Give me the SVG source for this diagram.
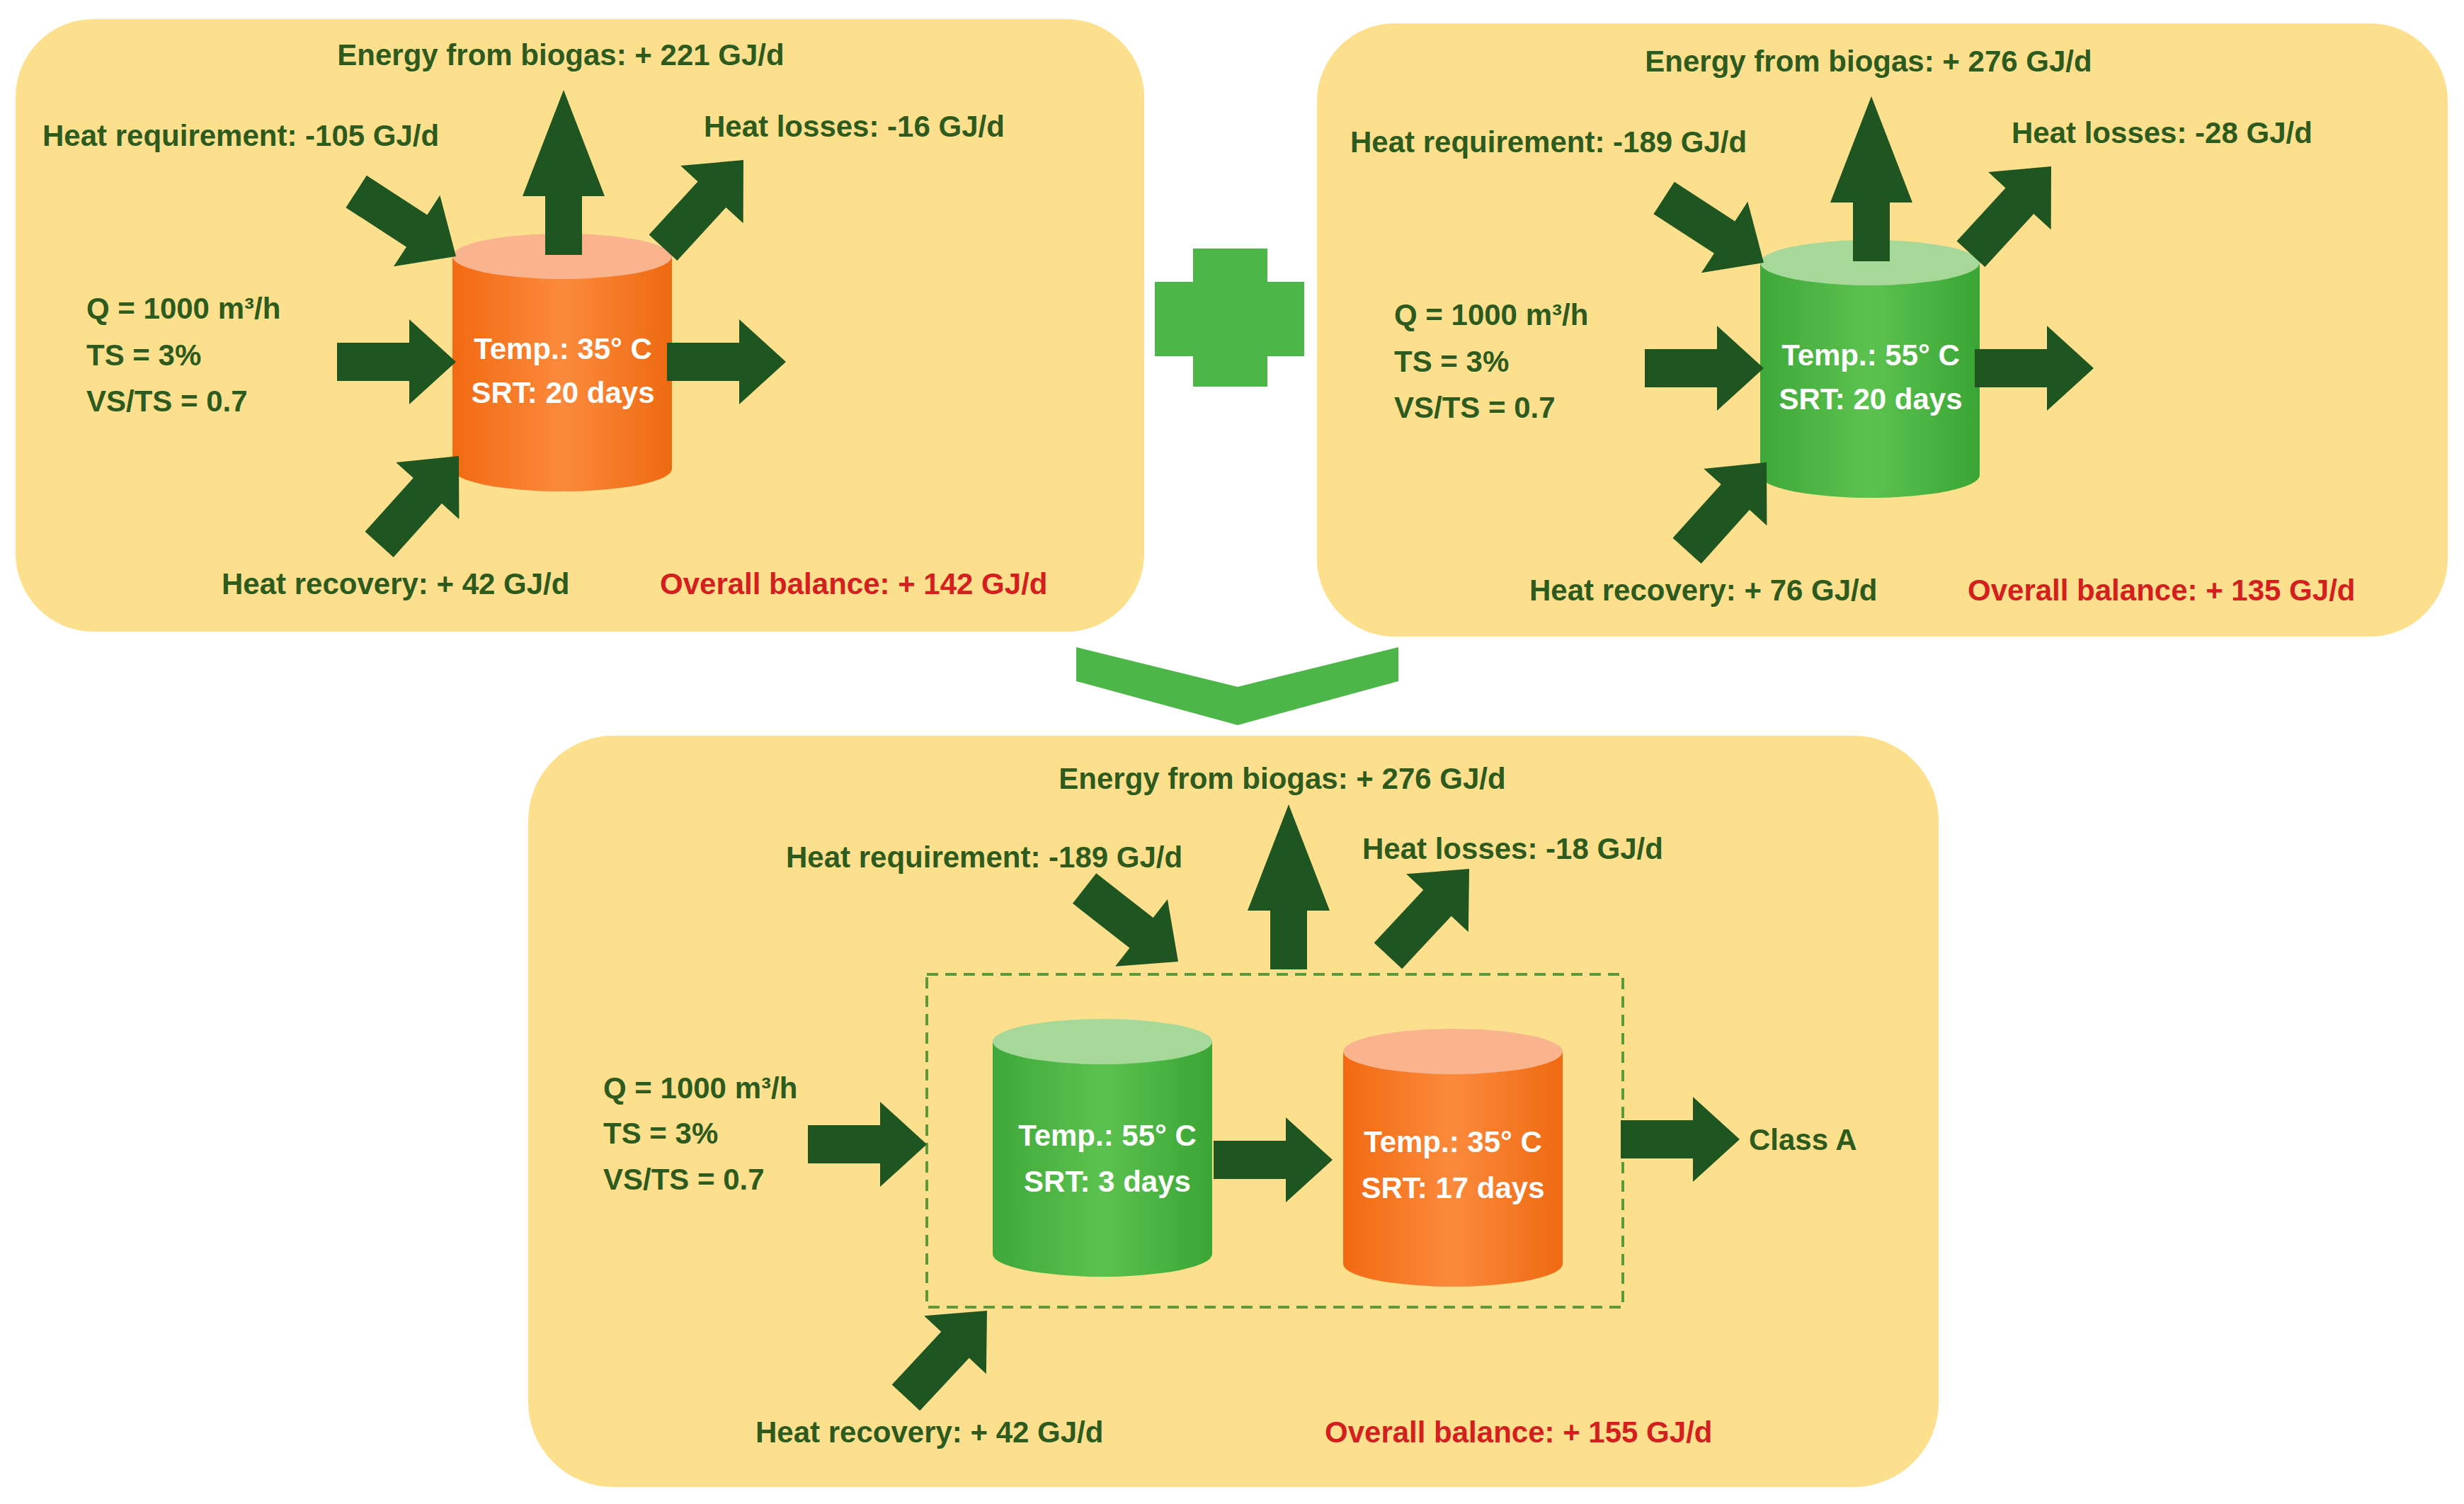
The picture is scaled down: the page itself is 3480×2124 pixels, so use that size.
<svg xmlns="http://www.w3.org/2000/svg" width="3480" height="2124" viewBox="0 0 3480 2124">
<style>
.panel{fill:#fce08e}
.t{font-family:"Liberation Sans",Arial,sans-serif;font-weight:bold;font-size:42px;fill:#2d5a1d}
.r{fill:#d3201e}
.w{fill:#ffffff;text-anchor:middle}
.arr{fill:#1f5521}
</style>
<defs>
<path id="a" class="arr" d="M-168,-27 L-66,-27 L-66,-60 L0,0 L-66,60 L-66,27 L-168,27 Z"/>
<path id="up" class="arr" d="M-233,-26 L-150,-26 L-150,-58 L0,0 L-150,58 L-150,26 L-233,26 Z"/>
<linearGradient id="og" x1="0" x2="1" y1="0" y2="0"><stop offset="0" stop-color="#f26a12"/><stop offset="0.5" stop-color="#fb8a3c"/><stop offset="1" stop-color="#ee6a12"/></linearGradient>
<linearGradient id="gg" x1="0" x2="1" y1="0" y2="0"><stop offset="0" stop-color="#3fa83a"/><stop offset="0.5" stop-color="#5cc24f"/><stop offset="1" stop-color="#3aa535"/></linearGradient>
<g id="ocyl"><path d="M0,0 L0,300 A155,32 0 0 0 310,300 L310,0 Z" fill="url(#og)"/><ellipse cx="155" cy="0" rx="155" ry="32" fill="#f9b48e"/></g>
<g id="gcyl"><path d="M0,0 L0,300 A155,32 0 0 0 310,300 L310,0 Z" fill="url(#gg)"/><ellipse cx="155" cy="0" rx="155" ry="32" fill="#a6d89a"/></g>
</defs>
<rect width="3480" height="2124" fill="#ffffff"/>
<g id="panel1">
<rect class="panel" x="22" y="27" width="1594" height="865" rx="110"/>
<use href="#ocyl" x="639" y="362"/>
<text class="t w" x="795" y="507">Temp.: 35° C</text>
<text class="t w" x="795" y="569">SRT: 20 days</text>
<text class="t" x="792" y="92" text-anchor="middle">Energy from biogas: + 221 GJ/d</text>
<text class="t" x="60" y="206">Heat requirement: -105 GJ/d</text>
<text class="t" x="994" y="193">Heat losses: -16 GJ/d</text>
<text class="t" x="122" y="450">Q = 1000 m³/h</text>
<text class="t" x="122" y="516">TS = 3%</text>
<text class="t" x="122" y="581">VS/TS = 0.7</text>
<text class="t" x="313" y="839">Heat recovery: + 42 GJ/d</text>
<text class="t r" x="932" y="839">Overall balance: + 142 GJ/d</text>
</g>
<g id="panel2">
<rect class="panel" x="1860" y="33" width="1597" height="866" rx="110"/>
<use href="#gcyl" x="2486" y="371"/>
<text class="t w" x="2642" y="516">Temp.: 55° C</text>
<text class="t w" x="2642" y="578">SRT: 20 days</text>
<text class="t" x="2639" y="101" text-anchor="middle">Energy from biogas: + 276 GJ/d</text>
<text class="t" x="1907" y="215">Heat requirement: -189 GJ/d</text>
<text class="t" x="2841" y="202">Heat losses: -28 GJ/d</text>
<text class="t" x="1969" y="459">Q = 1000 m³/h</text>
<text class="t" x="1969" y="525">TS = 3%</text>
<text class="t" x="1969" y="590">VS/TS = 0.7</text>
<text class="t" x="2160" y="848">Heat recovery: + 76 GJ/d</text>
<text class="t r" x="2779" y="848">Overall balance: + 135 GJ/d</text>
</g>
<g id="plus"><path d="M1685,351 H1790 V398 H1842 V503 H1790 V546 H1685 V503 H1631 V398 H1685 Z" fill="#4cb748"/></g>
<g id="chevron"><path d="M1520,914 L1748,970 L1975,914 L1975,962 L1748,1024 L1520,962 Z" fill="#4cb748"/></g>
<g id="panel3">
<rect class="panel" x="746" y="1039" width="1992" height="1061" rx="120"/>
<rect x="1309" y="1376" width="983" height="470" fill="none" stroke="#5a9a3a" stroke-width="4" stroke-dasharray="16,10"/>
<use href="#gcyl" x="1402" y="1471"/>
<use href="#ocyl" x="1897" y="1485"/>
<text class="t w" x="1564" y="1618">Temp.: 55° C</text>
<text class="t w" x="1564" y="1683">SRT: 3 days</text>
<text class="t w" x="2052" y="1627">Temp.: 35° C</text>
<text class="t w" x="2052" y="1692">SRT: 17 days</text>
<text class="t" x="1811" y="1114" text-anchor="middle">Energy from biogas: + 276 GJ/d</text>
<text class="t" x="1110" y="1225">Heat requirement: -189 GJ/d</text>
<text class="t" x="1924" y="1213">Heat losses: -18 GJ/d</text>
<text class="t" x="852" y="1551">Q = 1000 m³/h</text>
<text class="t" x="852" y="1615">TS = 3%</text>
<text class="t" x="852" y="1680">VS/TS = 0.7</text>
<text class="t" x="2470" y="1624">Class A</text>
<text class="t" x="1067" y="2037">Heat recovery: + 42 GJ/d</text>
<text class="t r" x="1871" y="2037">Overall balance: + 155 GJ/d</text>
</g>
<g id="connectors">
<use href="#up" transform="translate(796,127) rotate(-90)"/>
<use href="#a" transform="translate(644,362) rotate(33)"/>
<use href="#a" transform="translate(1050,226) rotate(-47.5)"/>
<use href="#a" transform="translate(644,511) rotate(0)"/>
<use href="#a" transform="translate(1110,511) rotate(0)"/>
<use href="#a" transform="translate(648,644) rotate(-48)"/>
<use href="#up" transform="translate(2643,136) rotate(-90)"/>
<use href="#a" transform="translate(2491,371) rotate(33)"/>
<use href="#a" transform="translate(2897,235) rotate(-47.5)"/>
<use href="#a" transform="translate(2491,520) rotate(0)"/>
<use href="#a" transform="translate(2957,520) rotate(0)"/>
<use href="#a" transform="translate(2495,653) rotate(-48)"/>
<use href="#up" transform="translate(1820,1136) rotate(-90)"/>
<use href="#a" transform="translate(1664,1358) rotate(38)"/>
<use href="#a" transform="translate(2075,1227) rotate(-47)"/>
<use href="#a" transform="translate(1309,1616) rotate(0)"/>
<use href="#a" transform="translate(1882,1638) rotate(0)"/>
<use href="#a" transform="translate(2457,1609) rotate(0)"/>
<use href="#a" transform="translate(1394,1851) rotate(-47)"/>
</g>
</svg>
